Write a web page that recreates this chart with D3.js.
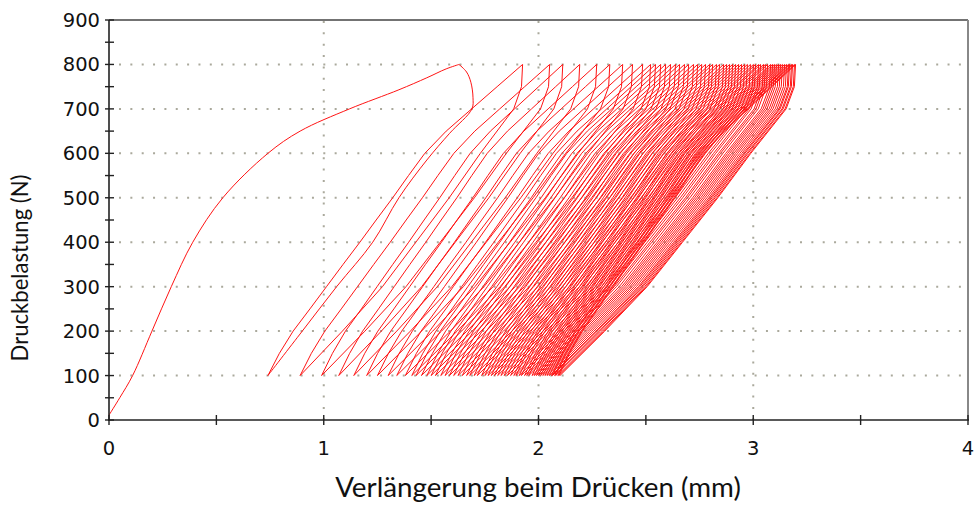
<!DOCTYPE html>
<html>
<head>
<meta charset="utf-8">
<script src="https://cdn.jsdelivr.net/npm/d3@7"></script>
<style>
  body { margin: 0; background: #fff; }
  svg { display: block; }
</style>
</head>
<body>
<svg id="chart"></svg>
<script>
// ---------- data ----------
const xTickValues = [0, 1, 2, 3, 4];
const yTickValues = [0, 100, 200, 300, 400, 500, 600, 700, 800, 900];

// first (virgin) loading curve
const firstLoadX = [0, 0.05, 0.11, 0.20, 0.29, 0.39, 0.53, 0.74, 0.89, 1.12, 1.35, 1.48, 1.57, 1.63];
const firstLoadY = [11, 50, 100, 200, 300, 400, 500, 600, 650, 700, 743, 770, 790, 800];

// first unloading curve
const firstUnloadX = [1.63, 1.665, 1.685, 1.695, 1.69, 1.586, 1.48, 1.35, 1.228, 1.06, 0.90, 0.74];
const firstUnloadY = [800, 783, 760, 725, 700, 645, 585, 500, 400, 300, 200, 100];

// later cycles 100 N <-> 800 N
// x where each reload starts at 100 N (last value = end of the final unload)
const cycleMinX = [
  0.74, 0.89, 0.99, 1.07, 1.14, 1.20, 1.25, 1.30, 1.34, 1.38,
  1.41, 1.43, 1.455, 1.48, 1.50, 1.52, 1.545, 1.565, 1.585, 1.605,
  1.625, 1.645, 1.665, 1.68, 1.70, 1.715, 1.735, 1.75, 1.765, 1.78,
  1.795, 1.81, 1.825, 1.84, 1.855, 1.87, 1.885, 1.895, 1.91, 1.92,
  1.935, 1.945, 1.955, 1.97, 1.98, 1.99, 2.00, 2.01, 2.02, 2.03,
  2.04, 2.05, 2.06, 2.065, 2.075, 2.08, 2.09, 2.095, 2.10
];
// x reached at 800 N for each reload
const cyclePeakX = [
  1.926, 2.052, 2.113, 2.192, 2.271, 2.332, 2.392, 2.438, 2.485, 2.522,
  2.545, 2.569, 2.592, 2.615, 2.638, 2.657, 2.680, 2.699, 2.722, 2.741,
  2.760, 2.778, 2.797, 2.811, 2.829, 2.843, 2.862, 2.876, 2.890, 2.904,
  2.918, 2.932, 2.946, 2.960, 2.973, 2.987, 3.001, 3.011, 3.025, 3.034,
  3.048, 3.057, 3.067, 3.081, 3.090, 3.099, 3.108, 3.118, 3.127, 3.136,
  3.146, 3.155, 3.164, 3.169, 3.178, 3.183, 3.192, 3.197
];

// branch shapes (force level, share of the way from the 100 N point to the 800 N point)
const loadForce = [100, 150, 200, 250, 300, 350, 400, 450, 500, 550, 600, 650, 700, 750, 800];
const loadShare = [0, 0.045, 0.099, 0.165, 0.23, 0.295, 0.361, 0.425, 0.49, 0.552, 0.616, 0.70, 0.80, 0.90, 1];
const unloadForce = [800, 750, 700, 600, 500, 400, 300, 200, 100];
const unloadShare = [1, 0.995, 0.96, 0.81, 0.67, 0.52, 0.37, 0.19, 0];

// ---------- chart ----------
const W = 976, H = 505;
const svg = d3.select("#chart").attr("width", W).attr("height", H);

const x = d3.scaleLinear().domain([0, 4]).range([109, 968]);
const y = d3.scaleLinear().domain([0, 900]).range([420, 20]);

// dotted grid
const grid = svg.append("g")
    .attr("stroke", "#aaa99c")
    .attr("stroke-width", 2)
    .attr("stroke-dasharray", "2 9.35");

grid.selectAll(".hgrid")
    .data(yTickValues.filter(v => v > 0 && v < 900))
    .enter().append("line")
    .attr("x1", 119).attr("x2", 968)
    .attr("y1", d => y(d)).attr("y2", d => y(d));

grid.selectAll(".vgrid")
    .data(xTickValues.filter(v => v > 0 && v < 4))
    .enter().append("line")
    .attr("y1", 21).attr("y2", 420)
    .attr("x1", d => x(d)).attr("x2", d => x(d));

// first load + first unload, smoothed
const firstLoad = firstLoadX.map((v, i) => [v, firstLoadY[i]]);
const firstUnload = firstUnloadX.map((v, i) => [v, firstUnloadY[i]]);
const smooth = d3.line().curve(d3.curveCatmullRom.alpha(0.5))
    .x(d => x(d[0])).y(d => y(d[1]));

const curves = svg.append("g")
    .attr("fill", "none")
    .attr("stroke", "#ff1414")
    .attr("stroke-width", 1)
    .attr("stroke-linejoin", "round");

curves.append("path").datum(firstLoad).attr("d", smooth);
curves.append("path").datum(firstUnload).attr("d", smooth);

// repeated cycles
let pts = [];
cyclePeakX.forEach((p, k) => {
    const m = cycleMinX[k], m2 = cycleMinX[k + 1];
    loadForce.forEach((f, i) => pts.push([m + loadShare[i] * (p - m), f]));
    unloadForce.forEach((f, i) => {
        if (i > 0) pts.push([m2 + unloadShare[i] * (p - m2), f]);
    });
});

const line = d3.line().x(d => x(d[0])).y(d => y(d[1]));
curves.append("path").datum(pts).attr("d", line);

// frame top / right
svg.append("line").attr("x1", 109).attr("x2", 968).attr("y1", 20).attr("y2", 20)
    .attr("stroke", "#444").attr("stroke-width", 1.5);
svg.append("line").attr("x1", 968).attr("x2", 968).attr("y1", 20).attr("y2", 420)
    .attr("stroke", "#888").attr("stroke-width", 2);

// axes
const axisG = svg.append("g").attr("stroke", "#222");
axisG.append("line").attr("x1", 109).attr("x2", 109).attr("y1", 20).attr("y2", 421).attr("stroke-width", 1.6);
axisG.append("line").attr("x1", 108).attr("x2", 969).attr("y1", 420).attr("y2", 420).attr("stroke-width", 1.6);

axisG.selectAll(".ytick")
    .data(d3.range(0, 901, 50))
    .enter().append("line")
    .attr("x1", 105).attr("x2", 114)
    .attr("y1", d => y(d)).attr("y2", d => y(d))
    .attr("stroke-width", 1.4);

axisG.selectAll(".xtick")
    .data(d3.range(0, 4.01, 0.5))
    .enter().append("line")
    .attr("y1", 415).attr("y2", 425)
    .attr("x1", d => x(d)).attr("x2", d => x(d))
    .attr("stroke-width", 1.4);

// tick labels
svg.selectAll(".ylab")
    .data(yTickValues)
    .enter().append("text")
    .attr("x", 100)
    .attr("y", d => y(d))
    .attr("dy", "0.36em")
    .attr("text-anchor", "end")
    .attr("font-family", "DejaVu Sans, Verdana, sans-serif")
    .attr("font-size", 19.5)
    .attr("fill", "#111")
    .text(d => d);

svg.selectAll(".xlab")
    .data(xTickValues)
    .enter().append("text")
    .attr("x", d => x(d))
    .attr("y", 455)
    .attr("text-anchor", "middle")
    .attr("font-family", "DejaVu Sans, Verdana, sans-serif")
    .attr("font-size", 19.5)
    .attr("fill", "#111")
    .text(d => d);

// titles, sized to the width seen in the picture
function fitText(sel, target) {
    const len = sel.node().getComputedTextLength();
    const fs = parseFloat(sel.attr("font-size"));
    sel.attr("font-size", fs * target / len);
}

const xTitle = svg.append("text")
    .attr("x", 538).attr("y", 497)
    .attr("text-anchor", "middle")
    .attr("font-family", "Lato, Open Sans, sans-serif")
    .attr("font-size", 24)
    .attr("fill", "#111")
    .text("Verlängerung beim Drücken (mm)");
fitText(xTitle, 406);

const yTitle = svg.append("text")
    .attr("transform", "translate(28,268) rotate(-90)")
    .attr("text-anchor", "middle")
    .attr("font-family", "Lato, Open Sans, sans-serif")
    .attr("font-size", 20)
    .attr("fill", "#111")
    .text("Druckbelastung (N)");
fitText(yTitle, 187);
</script>
</body>
</html>
